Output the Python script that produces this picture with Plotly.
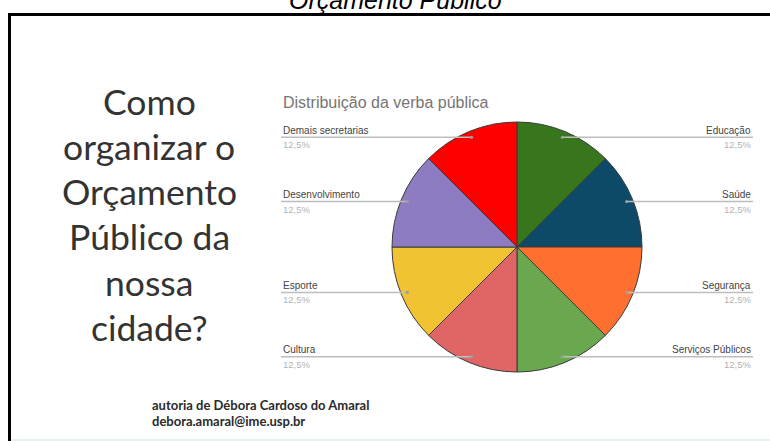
import math
import plotly.graph_objects as go

# ---------------- data ----------------
categories = ["Educação", "Saúde", "Segurança", "Serviços Públicos",
              "Cultura", "Esporte", "Desenvolvimento", "Demais secretarias"]
values = [12.5, 12.5, 12.5, 12.5, 12.5, 12.5, 12.5, 12.5]
chart_title = "Distribuição da verba pública"
slide_lines = ["Como", "organizar o", "Orçamento", "Público da", "nossa", "cidade?"]
author_lines = ["autoria de Débora Cardoso do Amaral", "debora.amaral@ime.usp.br"]
page_title = "Orçamento Público"

# ---------------- style ----------------
colors = ["#38761d", "#0d4a68", "#fe6f30", "#6aa84f",
          "#e06666", "#f1c232", "#8e7cc3", "#ff0000"]
W, H = 770, 441
CX, CY, R = 517, 247, 125
LEFT_X, RIGHT_X = 281, 753


def px(x):
    return x / W


def py(y):
    return 1 - y / H


fig = go.Figure()
fig.add_trace(go.Pie(
    labels=categories, values=values, sort=False, direction="clockwise",
    rotation=0, textinfo="none", showlegend=False,
    marker=dict(colors=colors, line=dict(color="#3a3a3a", width=1)),
    domain=dict(x=[px(CX - R), px(CX + R)], y=[py(CY + R), py(CY - R)]),
))

shapes = []
annotations = []

# leader lines and labels computed from the data
total = sum(values)
cum = 0.0
for name, v in zip(categories, values):
    f = (cum + v / 2) / total
    cum += v
    th = 2 * math.pi * f
    dx = CX + 0.95 * R * math.sin(th)
    dy = CY - 0.95 * R * math.cos(th)
    pct = f"{v / total * 100:.1f}%".replace(".", ",")
    right = math.sin(th) > 0
    x0, x1 = (dx, RIGHT_X) if right else (LEFT_X, dx)
    shapes.append(dict(type="line", xref="paper", yref="paper",
                       x0=px(x0), x1=px(x1), y0=py(dy), y1=py(dy),
                       line=dict(color="#bdbdbd", width=1.5)))
    shapes.append(dict(type="circle", xref="paper", yref="paper",
                       x0=px(dx - 1.6), x1=px(dx + 1.6), y0=py(dy + 1.6), y1=py(dy - 1.6),
                       fillcolor="#9e9e9e", line=dict(width=0)))
    ax = RIGHT_X if right else LEFT_X
    anc = "right" if right else "left"
    annotations.append(dict(text=name, x=px(ax), y=py(dy - 7), xref="paper", yref="paper",
                            xanchor=anc, yanchor="middle", showarrow=False,
                            font=dict(family="Liberation Sans, Arial", size=10, color="#444444")))
    annotations.append(dict(text=pct, x=px(ax), y=py(dy + 7.5), xref="paper", yref="paper",
                            xanchor=anc, yanchor="middle", showarrow=False,
                            font=dict(family="Liberation Sans, Arial", size=9.5, color="#b3b3b3")))

# chart title
annotations.append(dict(text=chart_title, x=px(LEFT_X), y=py(103), xref="paper", yref="paper",
                        xanchor="left", yanchor="middle", showarrow=False,
                        font=dict(family="Liberation Sans, Arial", size=16, color="#757575")))

# big slide text
for i, line in enumerate(slide_lines):
    annotations.append(dict(text=line, x=px(149), y=py(101 + i * 45.3), xref="paper", yref="paper",
                            xanchor="center", yanchor="middle", showarrow=False,
                            font=dict(family="Lato", size=35.5, color="#333333")))

# author
for i, line in enumerate(author_lines):
    annotations.append(dict(text=line, x=px(150), y=py(405 + i * 15.5), xref="paper", yref="paper",
                            xanchor="left", yanchor="middle", showarrow=False,
                            font=dict(family="Lato", size=13, color="#2a2a2a", weight=700)))

# page title (cut at top)
annotations.append(dict(text=page_title, x=px(396), y=py(-0.5), xref="paper", yref="paper",
                        xanchor="center", yanchor="middle", showarrow=False,
                        font=dict(family="Liberation Sans, Arial", size=25, color="#000000",
                                  style="italic")))

# slide border
shapes.append(dict(type="line", xref="paper", yref="paper", x0=px(9.5), x1=px(9.5),
                   y0=py(13), y1=py(445), line=dict(color="#000000", width=3)))
shapes.append(dict(type="line", xref="paper", yref="paper", x0=px(8), x1=px(775),
                   y0=py(14.5), y1=py(14.5), line=dict(color="#000000", width=3)))
shapes.append(dict(type="line", xref="paper", yref="paper", x0=px(11), x1=px(775),
                   y0=py(440), y1=py(440), line=dict(color="#e3f4f3", width=2)))

fig.update_layout(
    width=W, height=H, margin=dict(l=0, r=0, t=0, b=0),
    paper_bgcolor="white", plot_bgcolor="white",
    shapes=shapes, annotations=annotations,
)
fig.write_html("out.html")
